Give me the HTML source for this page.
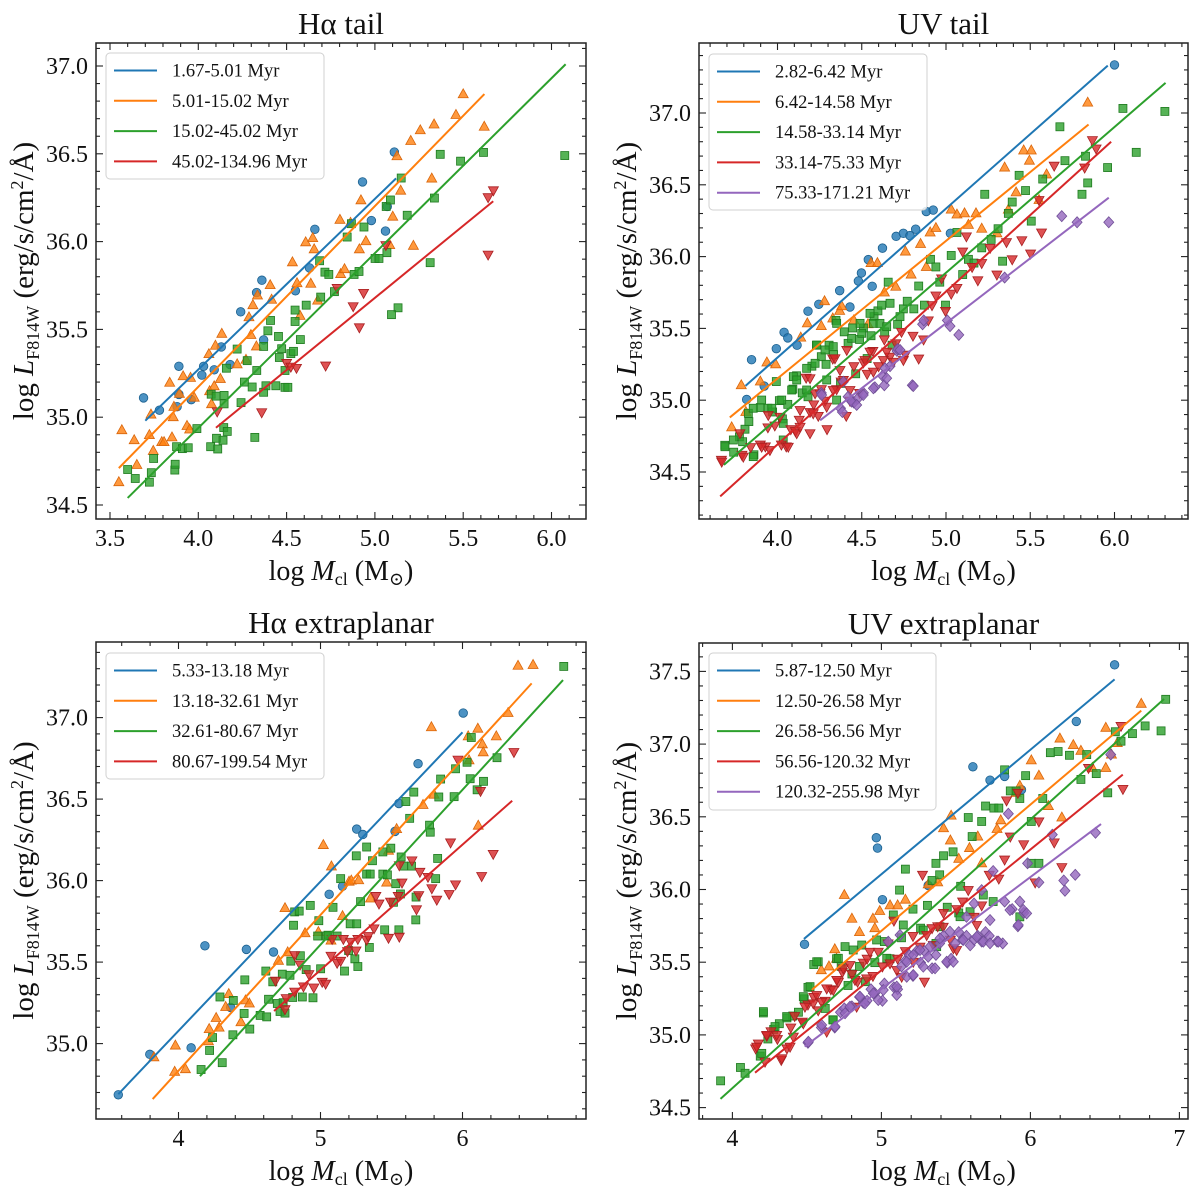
<!DOCTYPE html>
<html><head><meta charset="utf-8">
<style>
html,body{margin:0;padding:0;background:#fff;}
svg text{font-family:"Liberation Serif","DejaVu Serif",serif;fill:#111;}
</style></head>
<body>
<svg id="fig" width="1200" height="1196" viewBox="0 0 1200 1196" xmlns="http://www.w3.org/2000/svg"></svg>
<script>
// ---------- DATA ----------
const haTailLabels = ["1.67-5.01 Myr","5.01-15.02 Myr","15.02-45.02 Myr","45.02-134.96 Myr"];
const haTailBlue = [[3.69,35.11],[3.78,35.04],[3.89,35.29],[3.89,35.13],[3.88,35.06],[3.96,35.10],[4.02,35.24],[4.03,35.29],[4.09,35.27],[4.13,35.40],[4.18,35.30],[4.24,35.60],[4.33,35.71],[4.36,35.78],[4.37,35.44],[4.55,35.72],[4.63,35.85],[4.66,36.07],[4.93,36.34],[4.98,36.12],[5.06,36.06],[5.07,36.20],[5.11,36.51]];
const haTailOrange = [[3.567,34.926],[3.55,34.63],[3.637,34.869],[3.652,34.728],[3.723,34.898],[3.732,35.015],[3.745,34.808],[3.793,34.858],[3.806,34.858],[3.838,35.196],[3.858,35.0],[3.851,34.885],[3.862,35.059],[3.893,35.133],[3.914,35.233],[3.936,34.95],[3.951,34.93],[3.956,35.224],[3.977,35.111],[4.064,35.148],[4.075,35.074],[4.09,35.176],[4.097,35.407],[4.125,35.218],[4.133,35.475],[4.06,35.359],[4.22,35.301],[4.27,35.327],[4.287,35.569],[4.298,35.468],[4.309,35.638],[4.335,35.693],[4.329,35.403],[4.407,35.752],[4.415,35.669],[4.533,35.882],[4.559,35.763],[4.576,35.577],[4.608,35.996],[4.637,35.76],[4.648,36.02],[4.656,35.956],[4.676,35.664],[4.802,36.124],[4.806,35.815],[4.828,35.843],[4.862,36.107],[4.921,36.235],[4.912,35.956],[4.949,36.002],[5.084,35.98],[5.101,36.142],[5.125,36.486],[5.146,36.29],[5.218,35.976],[5.203,36.573],[5.257,36.634],[5.322,36.359],[5.335,36.667],[5.459,36.721],[5.5,36.839],[5.619,36.654]];
const haTailGreen = [[3.6,34.702],[3.643,34.651],[3.723,34.63],[3.734,34.684],[3.747,34.765],[3.867,34.699],[3.869,34.732],[3.877,34.832],[3.91,34.821],[3.943,34.826],[3.992,34.935],[4.07,34.832],[4.073,35.131],[4.101,35.12],[4.11,34.819],[4.103,34.88],[4.14,34.869],[4.144,34.941],[4.164,34.919],[4.146,35.124],[4.146,35.076],[4.159,35.279],[4.22,35.388],[4.242,35.083],[4.261,35.2],[4.277,35.322],[4.305,35.172],[4.32,34.885],[4.331,35.266],[4.37,35.142],[4.37,35.403],[4.383,35.179],[4.394,35.492],[4.409,35.551],[4.439,35.179],[4.454,35.46],[4.459,35.34],[4.472,35.39],[4.491,35.17],[4.507,35.17],[4.491,35.266],[4.524,35.362],[4.539,35.375],[4.548,35.61],[4.548,35.545],[4.578,35.442],[4.611,35.638],[4.687,35.891],[4.693,35.684],[4.717,35.826],[4.739,35.813],[4.771,35.715],[4.843,36.026],[4.867,36.102],[4.882,35.813],[4.91,35.83],[4.938,36.083],[5.001,35.904],[5.023,35.904],[5.064,36.2],[5.068,35.937],[5.088,36.237],[5.131,35.623],[5.094,35.584],[5.149,36.362],[5.183,36.15],[5.313,35.88],[5.337,36.248],[5.37,36.497],[5.485,36.458],[5.615,36.508],[6.075,36.49]];
const haTailRed = [[4.107,35.033],[4.359,35.028],[4.5,35.309],[4.524,35.288],[4.556,35.281],[4.721,35.294],[4.786,35.736],[4.877,35.632],[4.912,35.512],[4.936,35.708],[5.062,35.98],[5.641,36.253],[5.671,36.292],[5.641,35.926]];
const haTailFits = [[3.70,34.98,5.12,36.36],[3.55,34.71,5.62,36.84],[3.60,34.54,6.08,37.01],[4.10,34.94,5.67,36.23]];

const uvTailLabels = ["2.82-6.42 Myr","6.42-14.58 Myr","14.58-33.14 Myr","33.14-75.33 Myr","75.33-171.21 Myr"];
const uvTailBlue = [[3.846,35.282],[3.817,35.005],[3.921,35.098],[3.993,35.359],[4.039,35.473],[4.061,35.434],[4.116,35.383],[4.181,35.62],[4.245,35.668],[4.369,35.763],[4.43,35.649],[4.48,35.83],[4.498,35.886],[4.539,35.979],[4.562,35.793],[4.623,36.059],[4.704,36.141],[4.747,36.162],[4.786,36.146],[4.82,36.191],[4.883,36.314],[4.924,36.324],[5.026,36.162],[6.0,37.335]];
const uvTailOrange = [[3.785,35.104],[3.728,34.811],[3.812,34.918],[3.898,35.13],[3.937,35.263],[3.989,35.25],[4.138,35.436],[4.177,35.535],[4.26,35.516],[4.279,35.689],[4.328,35.569],[4.369,35.622],[4.381,35.654],[4.453,35.556],[4.537,35.529],[4.555,35.955],[4.593,35.955],[4.634,35.75],[4.702,35.79],[4.759,36.035],[4.793,35.875],[4.849,36.088],[4.883,35.928],[4.906,36.168],[4.94,36.199],[5.031,36.327],[5.065,36.293],[5.11,36.301],[5.133,36.221],[5.178,36.301],[5.212,36.194],[5.302,36.162],[5.348,36.62],[5.37,36.327],[5.416,36.447],[5.461,36.739],[5.495,36.668],[5.506,36.739],[5.552,36.394],[5.597,36.572],[5.841,37.072]];
const uvTailGreen = [[3.687,34.686],[3.74,34.638],[3.774,34.745],[3.807,34.798],[3.83,34.851],[3.86,34.62],[3.898,34.949],[3.943,34.944],[3.971,34.918],[3.993,35.13],[4.011,34.997],[4.029,34.87],[4.061,34.971],[4.091,35.077],[4.113,35.17],[4.147,35.051],[4.181,35.024],[4.204,35.237],[4.231,35.383],[4.26,35.303],[4.288,35.25],[4.306,35.383],[4.333,35.317],[4.347,35.556],[4.374,35.117],[4.396,35.476],[4.419,35.396],[4.446,35.503],[4.464,35.184],[4.487,35.423],[4.51,35.503],[4.532,35.29],[4.555,35.449],[4.573,35.582],[4.596,35.622],[4.618,35.662],[4.636,35.476],[4.657,35.822],[4.68,35.383],[4.713,35.529],[4.747,35.636],[4.77,35.689],[4.809,35.636],[4.838,35.795],[4.872,35.662],[4.908,35.981],[4.94,35.928],[4.963,35.822],[4.997,35.662],[5.031,36.008],[5.065,36.168],[5.099,35.875],[5.133,35.981],[5.166,35.955],[5.212,36.061],[5.23,36.434],[5.268,36.12],[5.309,36.194],[5.336,35.968],[5.37,36.301],[5.393,36.38],[5.434,36.566],[5.472,36.46],[5.506,36.247],[5.574,36.54],[5.676,36.904],[5.706,36.668],[5.807,36.434],[5.841,36.513],[5.828,36.699],[5.959,36.62],[6.05,37.032],[6.129,36.726],[6.299,37.011],
 [3.688,34.676],[3.738,34.723],[3.793,34.711],[3.856,34.607],[3.827,34.909],[3.856,34.944],[3.906,35.001],[3.966,34.944],[4.025,35.001],[4.034,34.839],[4.094,35.164],[4.114,35.141],[4.084,35.071],[4.173,35.222],[4.223,35.257],[4.233,35.384],[4.282,35.35],[4.331,35.373],[4.351,35.535],[4.44,35.431],[4.49,35.535],[4.5,35.466],[4.569,35.535],[4.608,35.535],[4.549,35.605],[4.648,35.512],[4.668,35.675],[4.727,35.582],[4.173,35.071],[4.292,35.141],[4.351,35.001],[4.034,34.723]];
const uvTailRed = [[3.667,34.585],[3.789,34.62],[3.841,34.673],[3.898,34.691],[3.928,34.678],[3.943,34.811],[3.984,34.824],[4.023,34.691],[4.052,34.678],[4.079,34.798],[4.106,34.785],[4.129,34.864],[4.17,35.157],[4.193,34.918],[4.215,34.971],[4.242,34.891],[4.26,35.077],[4.283,34.997],[4.294,34.798],[4.328,35.29],[4.351,35.077],[4.378,35.13],[4.408,34.891],[4.43,34.997],[4.453,35.237],[4.487,35.051],[4.51,35.263],[4.532,35.184],[4.566,35.343],[4.6,35.237],[4.634,35.423],[4.668,35.303],[4.702,35.396],[4.736,35.476],[4.759,35.317],[4.804,35.449],[4.838,35.29],[4.867,35.423],[4.895,35.556],[4.917,35.662],[4.94,35.729],[4.974,35.848],[4.997,35.622],[5.031,35.742],[5.065,35.782],[5.099,36.035],[5.121,36.141],[5.155,35.928],[5.189,35.835],[5.212,35.955],[5.262,36.061],[5.302,35.875],[5.359,36.101],[5.393,35.981],[5.45,36.114],[5.502,36.021],[5.552,36.394],[5.567,36.168],[5.642,36.633],[5.823,36.62],[5.869,36.811],[5.891,36.753],
 [3.669,34.572],[3.777,34.77],[3.797,34.607],[3.906,34.676],[3.955,34.653],[3.945,34.897],[4.015,34.885],[4.064,34.676],[4.114,34.77],[4.134,34.815],[4.193,34.77],[4.193,35.153],[4.223,35.048],[4.252,35.048],[4.292,34.955],[4.341,35.292],[4.371,35.21],[4.391,35.141],[4.411,35.35],[4.519,35.28],[4.549,35.338],[4.569,35.199],[4.628,35.28],[4.648,35.338],[4.687,35.268],[4.747,35.28],[4.134,34.932],[4.331,35.071],[4.212,34.909],[4.43,35.071]];
const uvTailPurple = [[4.26,35.051],[4.374,34.944],[4.385,34.918],[4.419,35.024],[4.442,34.997],[4.453,34.984],[4.476,35.011],[4.51,35.051],[4.578,35.09],[4.623,35.17],[4.634,35.104],[4.668,35.237],[4.709,35.343],[4.713,35.356],[4.8,35.104],[4.861,35.529],[4.868,35.556],[5.008,35.556],[5.024,35.516],[5.076,35.455],[5.348,35.854],[5.687,36.282],[5.778,36.239],[5.966,36.239],
 [4.262,35.036],[4.391,35.129],[4.44,34.99],[4.47,34.967],[4.509,35.036],[4.569,35.083],[4.638,35.222],[4.648,35.153],[4.727,35.35],[4.806,35.099]];
const uvTailFits = [[3.81,35.10,5.96,37.33],[3.717,34.88,5.846,36.92],[3.682,34.55,6.303,37.21],[3.66,34.33,5.98,36.80],[4.253,34.86,5.966,36.41]];

const haExtLabels = ["5.33-13.18 Myr","13.18-32.61 Myr","32.61-80.67 Myr","80.67-199.54 Myr"];
const haExtBlue = [[3.576,34.686],[3.798,34.934],[4.089,34.974],[4.186,35.6],[4.367,35.222],[4.478,35.578],[4.669,35.562],[5.061,35.916],[5.155,35.965],[5.255,36.316],[5.298,36.283],[5.525,36.302],[5.552,36.473],[5.687,36.717],[6.005,37.028]];
const haExtOrange = [[3.827,34.916],[3.978,34.988],[3.973,34.827],[4.049,34.843],[4.211,35.014],[4.216,35.089],[4.265,35.157],[4.286,35.098],[4.332,35.225],[4.354,35.304],[4.44,35.131],[4.472,35.265],[4.499,35.246],[4.704,35.508],[4.75,35.831],[4.769,35.56],[4.891,35.677],[4.985,35.684],[5.02,36.218],[5.077,36.087],[5.074,35.632],[5.155,35.782],[5.201,35.993],[5.217,36.0],[5.269,36.002],[5.352,35.89],[5.466,35.988],[5.479,36.183],[5.536,36.316],[5.722,36.464],[5.781,36.941],[5.8,36.527],[6.04,36.885],[6.046,36.738],[6.108,36.932],[6.111,36.337],[6.14,36.836],[6.146,36.787],[6.238,36.885],[6.321,37.028],[6.391,37.318],[6.497,37.323]];
const haExtGreen = [[4.159,34.841],[4.219,34.958],[4.24,35.037],[4.308,34.883],[4.292,35.286],[4.383,35.054],[4.386,35.265],[4.462,35.185],[4.467,35.391],[4.502,35.089],[4.575,35.173],[4.615,35.445],[4.621,35.164],[4.634,35.272],[4.664,35.379],[4.696,35.246],[4.715,35.197],[4.731,35.426],[4.737,35.251],[4.75,35.187],[4.785,35.419],[4.791,35.506],[4.804,35.283],[4.81,35.726],[4.818,35.808],[4.85,35.813],[4.858,35.539],[4.872,35.286],[4.899,35.454],[4.928,35.848],[4.947,35.281],[4.98,35.66],[4.988,35.754],[5.001,35.459],[5.042,35.66],[5.053,35.665],[5.088,35.836],[5.117,35.66],[5.142,36.012],[5.169,35.445],[5.198,35.571],[5.209,35.735],[5.242,35.52],[5.252,36.152],[5.255,35.735],[5.263,35.473],[5.282,35.871],[5.325,36.206],[5.325,36.04],[5.344,35.59],[5.35,36.04],[5.366,36.122],[5.439,36.04],[5.439,36.176],[5.452,35.698],[5.471,36.035],[5.495,36.199],[5.514,35.867],[5.53,35.981],[5.552,35.698],[5.563,35.918],[5.568,36.145],[5.587,36.089],[5.601,36.485],[5.628,36.382],[5.641,36.089],[5.657,36.543],[5.671,35.759],[5.673,35.899],[5.768,36.34],[5.773,36.297],[5.811,36.012],[5.825,36.136],[5.833,36.513],[5.846,36.623],[5.941,36.515],[5.951,36.686],[6.032,36.726],[6.054,36.625],[6.062,36.878],[6.103,36.557],[6.148,36.609],[6.243,36.754],[6.713,37.314]];
const haExtRed = [[4.683,35.386],[4.75,35.211],[4.758,35.279],[4.818,35.319],[4.818,35.543],[4.856,35.485],[4.88,35.351],[4.918,35.426],[4.953,35.344],[5.012,35.379],[5.036,35.368],[5.074,35.539],[5.082,35.642],[5.117,35.496],[5.142,35.508],[5.161,35.642],[5.19,35.567],[5.212,35.625],[5.25,35.571],[5.263,35.642],[5.325,35.637],[5.336,35.66],[5.377,35.707],[5.39,35.906],[5.412,35.859],[5.479,35.649],[5.493,35.871],[5.547,35.906],[5.555,35.656],[5.555,36.094],[5.574,35.988],[5.644,36.124],[5.692,35.911],[5.7,36.054],[5.676,35.824],[5.757,36.023],[5.784,35.953],[5.819,35.883],[5.906,35.918],[5.916,36.234],[5.951,35.977],[5.968,36.742],[6.127,36.55],[6.135,36.028],[6.216,36.164],[6.362,36.789]];
const haExtFits = [[3.576,34.69,6.0,36.91],[3.818,34.66,6.487,37.21],[4.151,34.80,6.708,37.23],[4.673,35.20,6.35,36.49]];

const uvExtLabels = ["5.87-12.50 Myr","12.50-26.58 Myr","26.58-56.56 Myr","56.56-120.32 Myr","120.32-255.98 Myr"];
const uvExtBlue = [[4.484,35.623],[4.966,36.356],[4.974,36.285],[5.007,35.93],[5.314,36.028],[5.614,36.844],[5.729,36.752],[5.827,36.778],[5.94,36.686],[6.308,37.156],[6.565,37.545]];
const uvExtOrange = [[4.751,35.962],[4.802,35.799],[4.943,35.799],[4.956,35.734],[4.989,35.852],[5.058,35.891],[5.109,35.891],[5.161,35.93],[5.314,36.035],[5.378,36.049],[5.417,36.421],[5.468,36.508],[5.463,36.337],[5.519,36.211],[5.591,36.285],[5.647,36.364],[5.673,36.18],[5.776,36.416],[5.801,36.476],[5.904,36.665],[5.929,36.713],[6.006,36.888],[6.057,36.783],[6.121,36.574],[6.198,37.038],[6.211,36.495],[6.288,36.993],[6.339,36.954],[6.416,36.836],[6.506,37.112],[6.506,36.836],[6.583,37.007],[6.744,37.277],[6.544,36.928],[4.597,35.445],[4.648,35.471],[4.687,35.589],[4.699,35.524],[4.853,35.707]];
const uvExtGreen = [[3.921,34.684],[4.054,34.776],[4.085,34.736],[4.187,34.854],[4.208,35.151],[4.238,34.972],[4.277,35.038],[4.315,35.077],[4.366,35.117],[4.405,35.13],[4.443,35.156],[4.482,35.248],[4.507,35.327],[4.546,35.484],[4.576,35.503],[4.623,35.182],[4.674,35.104],[4.699,35.524],[4.73,35.471],[4.776,35.34],[4.802,35.419],[4.853,35.471],[4.892,35.366],[4.956,35.497],[5.02,35.642],[5.058,35.524],[5.135,35.668],[5.122,35.996],[5.161,36.14],[5.212,35.865],[5.263,35.734],[5.309,35.891],[5.34,36.062],[5.366,36.18],[5.391,36.101],[5.417,36.232],[5.442,35.878],[5.481,36.259],[5.532,36.022],[5.583,36.495],[5.609,36.364],[5.673,36.468],[5.699,36.574],[5.755,36.56],[5.788,36.56],[5.827,36.823],[5.865,36.678],[5.904,36.678],[5.929,36.626],[5.968,36.783],[6.006,36.468],[6.006,36.18],[6.057,36.18],[6.083,36.626],[6.134,36.941],[6.186,36.949],[6.262,36.923],[6.339,36.757],[6.378,36.928],[6.442,36.797],[6.519,36.665],[6.57,37.085],[6.608,37.02],[6.685,37.072],[6.77,37.125],[6.877,37.091],[6.908,37.308],[5.929,35.812],[5.75,35.917],[5.519,35.839],[5.366,35.629],
 [4.208,35.16],[4.197,34.873],[4.286,35.057],[4.364,35.126],[4.476,35.263],[4.521,35.332],[4.566,35.503],[4.711,35.527],[4.756,35.607],[4.811,35.584],[4.868,35.618],[4.968,35.653],[5.036,35.527],[5.08,35.825],[5.147,35.756],[5.281,35.721],[5.371,35.607],[5.393,35.744],[5.528,35.813],[5.595,35.847],[5.684,35.962],[4.677,35.103]];
const uvExtRed = [[4.156,34.907],[4.174,34.941],[4.231,34.994],[4.259,35.025],[4.302,34.972],[4.328,34.828],[4.366,34.907],[4.392,35.051],[4.418,35.13],[4.469,35.091],[4.507,35.209],[4.546,35.261],[4.576,35.169],[4.623,35.235],[4.661,35.314],[4.712,35.366],[4.738,35.432],[4.802,35.419],[4.84,35.366],[4.879,35.497],[4.904,35.524],[4.943,35.406],[5.007,35.471],[5.045,35.629],[5.084,35.786],[5.109,35.524],[5.161,35.576],[5.212,35.681],[5.276,36.101],[5.289,35.366],[5.34,35.734],[5.378,35.747],[5.417,35.839],[5.463,35.655],[5.507,35.865],[5.545,35.917],[5.583,35.996],[5.622,35.812],[5.673,35.891],[5.724,36.101],[5.788,36.075],[5.827,36.206],[5.84,36.613],[5.865,36.364],[5.916,36.665],[5.955,36.311],[6.032,36.049],[6.057,36.468],[6.16,36.324],[6.211,36.154],[6.39,36.836],[6.621,36.692],[6.608,37.125],
 [4.163,34.919],[4.23,35.0],[4.297,35.0],[4.219,34.816],[4.331,34.839],[4.387,34.919],[4.409,34.988],[4.476,35.08],[4.487,35.194],[4.543,35.217],[4.566,35.274],[4.599,35.228],[4.633,35.32],[4.677,35.309],[4.7,35.378],[4.744,35.458],[4.789,35.481],[4.823,35.378],[4.834,35.194],[4.901,35.389],[4.923,35.572],[4.979,35.572],[5.058,35.492],[5.103,35.446],[5.136,35.4],[5.214,35.503],[5.259,35.607],[5.304,35.687],[5.348,35.618],[5.415,35.744],[5.483,35.596],[5.505,35.584],[5.64,35.756],[4.633,35.022]];
const uvExtPurple = [[4.507,34.946],[4.597,35.051],[4.687,35.051],[4.725,35.156],[4.751,35.182],[4.802,35.196],[4.853,35.261],[4.879,35.222],[4.904,35.235],[4.93,35.314],[4.956,35.287],[5.007,35.235],[5.02,35.353],[5.084,35.327],[5.109,35.314],[5.135,35.471],[5.161,35.511],[5.186,35.55],[5.212,35.406],[5.237,35.576],[5.263,35.497],[5.289,35.576],[5.314,35.537],[5.34,35.458],[5.366,35.55],[5.391,35.629],[5.417,35.681],[5.442,35.497],[5.468,35.524],[5.494,35.629],[5.519,35.707],[5.545,35.655],[5.571,35.681],[5.596,35.616],[5.622,35.655],[5.647,35.681],[5.673,35.642],[5.699,35.707],[5.724,35.681],[5.776,35.642],[5.673,35.996],[5.75,36.127],[5.827,35.917],[5.814,35.629],[5.878,35.865],[5.916,35.747],[5.929,35.917],[5.955,35.839],[5.981,36.18],[6.057,36.049],[6.147,36.377],[6.224,36.062],[6.232,35.991],[6.301,36.101],[6.437,36.39],[6.539,36.928],[5.852,36.521],[5.571,35.812],[5.622,35.904],
 [4.51,34.953],[4.599,35.068],[4.689,35.057],[4.756,35.149],[4.789,35.194],[4.856,35.263],[4.89,35.217],[4.946,35.286],[4.979,35.24],[5.013,35.309],[5.103,35.274],[5.103,35.332],[5.17,35.4],[5.214,35.412],[5.281,35.469],[5.36,35.458],[5.438,35.503],[5.483,35.503],[5.214,35.55],[5.259,35.584],[5.17,35.503],[5.326,35.607],[5.393,35.664],[5.46,35.71],[5.55,35.653],[5.64,35.675],[5.684,35.641],[5.729,35.63],[5.785,35.641],[5.729,35.79],[5.863,35.859],[5.919,35.756],[5.953,35.859],[5.975,35.836],[5.046,35.641],[5.125,35.687]];
const uvExtFits = [[4.48,35.66,6.565,37.445],[4.533,35.31,6.744,37.23],[3.92,34.56,6.897,37.31],[4.152,34.74,6.62,36.79],[4.485,34.92,6.474,36.45]];

// ---------- RENDER ----------
const NS = "http://www.w3.org/2000/svg";
const svg = document.getElementById('fig');
const COLORS = ["#1f77b4","#ff7f0e","#2ca02c","#d62728","#9467bd"];
const EDGES = ["#1a5f8e","#d9650a","#1f7a1f","#a81f20","#6f4d96"];
const MARKERS = ["o","^","s","v","D"];
function mk(tag, attrs, parent){const e=document.createElementNS(NS,tag);for(const k in attrs)e.setAttribute(k,attrs[k]);(parent||svg).appendChild(e);return e;}

const panels = [
 {title:"H\u03b1 tail",name:"ha-tail",L:96,R:586,T:43,B:519,x0:3.5,px0:110,sx:176.6,y0:37.0,py0:66,sy:175.6,
  xt:[3.5,4.0,4.5,5.0,5.5,6.0],xd:1,xm:0.1,yt:[34.5,35.0,35.5,36.0,36.5,37.0],ym:0.1,
  labels:haTailLabels,series:[haTailBlue,haTailOrange,haTailGreen,haTailRed],fits:haTailFits,leg:{x:106,y:53,w:218,h:126}},
 {title:"UV tail",name:"uv-tail",L:699,R:1188,T:43,B:519,x0:4.0,px0:777.5,sx:168.5,y0:37.0,py0:113,sy:143.6,
  xt:[4.0,4.5,5.0,5.5,6.0],xd:1,xm:0.1,yt:[34.5,35.0,35.5,36.0,36.5,37.0],ym:0.1,
  labels:uvTailLabels,series:[uvTailBlue,uvTailOrange,uvTailGreen,uvTailRed,uvTailPurple],fits:uvTailFits,leg:{x:709,y:54,w:218,h:156}},
 {title:"H\u03b1 extraplanar",name:"ha-extraplanar",L:96,R:586,T:642,B:1119,x0:4,px0:178.5,sx:142,y0:37.0,py0:717.6,sy:163,
  xt:[4,5,6],xd:0,xm:0.2,yt:[35.0,35.5,36.0,36.5,37.0],ym:0.1,
  labels:haExtLabels,series:[haExtBlue,haExtOrange,haExtGreen,haExtRed],fits:haExtFits,leg:{x:106,y:653,w:218,h:126}},
 {title:"UV extraplanar",name:"uv-extraplanar",L:699,R:1188,T:643,B:1119,x0:4,px0:732.4,sx:149,y0:37.5,py0:671.4,sy:145.4,
  xt:[4,5,6,7],xd:0,xm:0.2,yt:[34.5,35.0,35.5,36.0,36.5,37.0,37.5],ym:0.1,
  labels:uvExtLabels,series:[uvExtBlue,uvExtOrange,uvExtGreen,uvExtRed,uvExtPurple],fits:uvExtFits,leg:{x:709,y:653,w:227,h:157}}
];

function marker(g,type,cx,cy,ci){
  const st={fill:COLORS[ci],'fill-opacity':0.8,stroke:EDGES[ci],'stroke-width':0.8};
  let e;
  if(type==="o"){e=mk('circle',Object.assign({cx:cx,cy:cy,r:4.3},st),g);}
  else if(type==="s"){e=mk('rect',Object.assign({x:cx-4,y:cy-4,width:8,height:8},st),g);}
  else if(type==="^"){e=mk('polygon',Object.assign({points:`${cx},${cy-5.5} ${cx-5},${cy+3.5} ${cx+5},${cy+3.5}`},st),g);}
  else if(type==="v"){e=mk('polygon',Object.assign({points:`${cx},${cy+5.5} ${cx-5},${cy-3.5} ${cx+5},${cy-3.5}`},st),g);}
  else {e=mk('polygon',Object.assign({points:`${cx},${cy-5.5} ${cx+5},${cy} ${cx},${cy+5.5} ${cx-5},${cy}`},st),g);}
  return e;
}

panels.forEach((p,pi)=>{
  const X=v=>p.px0+(v-p.x0)*p.sx;
  const Y=v=>p.py0-(v-p.y0)*p.sy;
  const g=mk('g',{});
  
  
  const cid='clip'+pi;
  const cp=mk('clipPath',{id:cid},g); mk('rect',{x:p.L,y:p.T,width:p.R-p.L,height:p.B-p.T},cp);
  const t=mk('text',{x:(p.L+p.R)/2,y:p.T-9,'text-anchor':'middle','font-size':31},g);
  t.textContent=p.title;
  
  
  const dg=mk('g',{'clip-path':`url(#${cid})`},g);
  p.series.forEach((s,si)=>{
    const sg=mk('g',{},dg);
    
    
    s.forEach(pt=>{
      const m=marker(sg,MARKERS[si],X(pt[0]),Y(pt[1]),si);
      
      
    });
  });
  p.fits.forEach((f,fi)=>{
    const l=mk('line',{x1:X(f[0]),y1:Y(f[1]),x2:X(f[2]),y2:Y(f[3]),stroke:COLORS[fi],'stroke-width':2},dg);
    
    
  });
  const fr=mk('rect',{x:p.L,y:p.T,width:p.R-p.L,height:p.B-p.T,fill:'none',stroke:'#222','stroke-width':1.5},g);
  
  
  const tg=mk('g',{stroke:'#222','stroke-width':1.1},g);
  const xmin=p.x0+(p.L-p.px0)/p.sx, xmax=p.x0+(p.R-p.px0)/p.sx;
  for(let v=Math.ceil(xmin/p.xm)*p.xm; v<=xmax; v+=p.xm){
    const px=X(v); const maj=p.xt.some(q=>Math.abs(q-v)<1e-6); const len=maj?7:4;
    mk('line',{x1:px,y1:p.B,x2:px,y2:p.B-len},tg); mk('line',{x1:px,y1:p.T,x2:px,y2:p.T+len},tg);
  }
  const ymin=p.y0-(p.B-p.py0)/p.sy, ymax=p.y0+(p.py0-p.T)/p.sy;
  for(let v=Math.ceil(ymin/p.ym-1e-6)*p.ym; v<=ymax; v+=p.ym){
    const py=Y(v); const maj=p.yt.some(q=>Math.abs(q-v)<1e-6); const len=maj?7:4;
    mk('line',{x1:p.L,y1:py,x2:p.L+len,y2:py},tg); mk('line',{x1:p.R,y1:py,x2:p.R-len,y2:py},tg);
  }
  p.xt.forEach(v=>{const e=mk('text',{x:X(v),y:p.B+27,'text-anchor':'middle','font-size':24},g);e.textContent=v.toFixed(p.xd);
    });
  p.yt.forEach(v=>{const e=mk('text',{x:p.L-8,y:Y(v)+8,'text-anchor':'end','font-size':24},g);e.textContent=v.toFixed(1);
    });
  const xl=mk('text',{x:(p.L+p.R)/2,y:p.B+61,'text-anchor':'middle','font-size':28},g);
  xl.innerHTML='log <tspan font-style="italic">M</tspan><tspan font-size="18" dy="5">cl</tspan><tspan dy="-5"> (M</tspan><tspan font-size="18" dy="5">\u2299</tspan><tspan dy="-5">)</tspan>';
  
  const cy=(p.T+p.B)/2, cx=p.L-63;
  const yl=mk('text',{x:cx,y:cy,'text-anchor':'middle','font-size':29,transform:`rotate(-90 ${cx} ${cy})`},g);
  yl.innerHTML='log <tspan font-style="italic">L</tspan><tspan font-size="18" dy="6">F814W</tspan><tspan dy="-6"> (erg/s/cm</tspan><tspan font-size="18" dy="-10">2</tspan><tspan dy="10">/\u00c5)</tspan>';
  
  const lg=mk('g',{},g);
  
  
  mk('rect',{x:p.leg.x,y:p.leg.y,width:p.leg.w,height:p.leg.h,rx:4,fill:'#fff','fill-opacity':0.85,stroke:'#d0d0d0','stroke-width':1},lg);
  p.labels.forEach((lab,li)=>{
    const ry=p.leg.y+17.5+li*30.3;
    const en=mk('g',{},lg);
    
    
    mk('line',{x1:p.leg.x+8,y1:ry,x2:p.leg.x+51,y2:ry,stroke:COLORS[li],'stroke-width':2},en);
    const tx=mk('text',{x:p.leg.x+66,y:ry+6,'font-size':18.5},en);
    tx.textContent=lab;
  });
});
</script>
</body></html>
